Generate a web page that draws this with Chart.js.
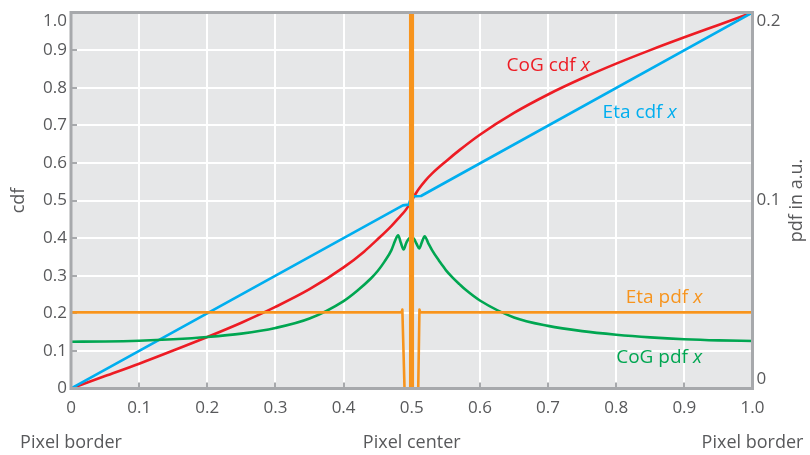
<!DOCTYPE html>
<html>
<head>
<meta charset="utf-8">
<script src="https://cdn.jsdelivr.net/npm/chart.js@4.4.1/dist/chart.umd.min.js"></script>
<style>
  html, body { margin: 0; padding: 0; background: #ffffff; }
  #wrap { width: 810px; height: 455px; }
</style>
</head>
<body>
<div id="wrap"><canvas id="c" width="810" height="455"></canvas></div>
<script>
// Position within the pixel (0 = border, 0.5 = centre, 1 = border)
const cogCdfX = [0, 0.05, 0.1, 0.15, 0.2, 0.25, 0.3, 0.35, 0.4, 0.43, 0.45, 0.47, 0.48, 0.49, 0.495, 0.5, 0.505, 0.51, 0.52, 0.53, 0.55, 0.57, 0.6, 0.65, 0.7, 0.75, 0.8, 0.85, 0.9, 0.95, 1.0];
const cogCdfY = [0, 0.033, 0.066, 0.101, 0.137, 0.175, 0.217, 0.264, 0.322, 0.364, 0.397, 0.432, 0.452, 0.472, 0.485, 0.5, 0.516, 0.53, 0.553, 0.572, 0.604, 0.634, 0.675, 0.733, 0.782, 0.825, 0.864, 0.9, 0.934, 0.967, 1.0];

const etaCdfX = [0, 0.487, 0.4955, 0.4995, 0.5135, 1.0];
const etaCdfY = [0, 0.487, 0.489, 0.511, 0.512, 1.0];

const etaPdfX = [0, 0.485, 0.4862, 0.4894, 0.4975, 0.4978, 0.5012, 0.5015, 0.5095, 0.5113, 0.5125, 1.0];
const etaPdfY = [0.0405, 0.0405, 0.042, 0, 0, 1.5, 1.5, 0, 0, 0.042, 0.0405, 0.0405];

const cogPdfX = [0, 0.05, 0.1, 0.15, 0.2, 0.25, 0.3, 0.35, 0.4, 0.42, 0.44, 0.45, 0.46, 0.47, 0.476, 0.48, 0.484, 0.488, 0.492, 0.497, 0.502, 0.507, 0.511, 0.515, 0.519, 0.524, 0.53, 0.54, 0.546, 0.55, 0.56, 0.57, 0.58, 0.6, 0.65, 0.7, 0.75, 0.8, 0.85, 0.9, 0.95, 1.0];
const cogPdfY = [0.0249, 0.0250, 0.0254, 0.0262, 0.0274, 0.0292, 0.0322, 0.0372, 0.0465, 0.052, 0.0585, 0.0625, 0.0675, 0.0735, 0.079, 0.0815, 0.0775, 0.074, 0.0775, 0.080, 0.080, 0.077, 0.0745, 0.078, 0.081, 0.0775, 0.0735, 0.068, 0.065, 0.063, 0.059, 0.0555, 0.0522, 0.0468, 0.0378, 0.0333, 0.0305, 0.0286, 0.0272, 0.0262, 0.0256, 0.0253];

// Secondary labels under the x axis
const bottomMarks = [0, 0.5, 1];
const bottomLabels = ['Pixel border', 'Pixel center', 'Pixel border'];

// Curve captions: text, colour, anchor (x, cdf value of baseline)
const captions = [
  { text: 'CoG cdf ', color: '#ed1c24', x: 0.639, y: 0.845 },
  { text: 'Eta cdf ', color: '#00aeef', x: 0.780, y: 0.719 },
  { text: 'Eta pdf ', color: '#f7941d', x: 0.814, y: 0.228 },
  { text: 'CoG pdf ', color: '#00a651', x: 0.800, y: 0.067 }
];

const TEXT = '#58595b';
const FRAME = '#a7a9ac';
const PLOT_BG = '#e6e7e8';
const FONT = "'Open Sans', 'Noto Sans', sans-serif";

const pts = (xs, ys) => xs.map((x, i) => ({ x: x, y: ys[i] }));
const fmt = v => Math.abs(v) < 1e-9 ? '0' : v.toFixed(1);
const near = (a, b) => Math.abs(a - b) < 1e-6;

const plotFrame = {
  id: 'plotFrame',
  beforeDraw(chart) {
    const { ctx, chartArea: a } = chart;
    ctx.save();
    ctx.fillStyle = PLOT_BG;
    ctx.fillRect(a.left, a.top, a.right - a.left, a.bottom - a.top);
    ctx.restore();
  },
  afterDatasetsDraw(chart) {
    const { ctx, chartArea: a } = chart;
    ctx.save();
    ctx.strokeStyle = FRAME;
    ctx.lineWidth = 3;
    ctx.strokeRect(a.left, a.top, a.right - a.left, a.bottom - a.top);
    ctx.restore();
  },
  afterDraw(chart) {
    const { ctx, chartArea: a } = chart;
    const xs = chart.scales.x, ys = chart.scales.y;
    ctx.save();
    // captions with italic variable name
    ctx.textBaseline = 'alphabetic';
    ctx.textAlign = 'left';
    captions.forEach(c => {
      const px = xs.getPixelForValue(c.x);
      const py = ys.getPixelForValue(c.y);
      ctx.fillStyle = c.color;
      ctx.font = '19px ' + FONT;
      ctx.fillText(c.text, px, py);
      const w = ctx.measureText(c.text).width;
      ctx.font = 'italic 19px ' + FONT;
      ctx.fillText('x', px + w, py);
    });
    // axis titles
    ctx.fillStyle = TEXT;
    ctx.font = '18px ' + FONT;
    ctx.textAlign = 'center';
    ctx.textBaseline = 'middle';
    const cy = (a.top + a.bottom) / 2;
    ctx.save();
    ctx.translate(19, cy);
    ctx.rotate(-Math.PI / 2);
    ctx.fillText('cdf', 0, 0);
    ctx.restore();
    ctx.save();
    ctx.translate(797, cy);
    ctx.rotate(-Math.PI / 2);
    ctx.fillText('pdf in a.u.', 0, 0);
    ctx.restore();
    ctx.restore();
  }
};

const gridStyle = {
  color: '#ffffff',
  lineWidth: 2,
  drawTicks: true,
  tickLength: -6,
  tickColor: FRAME,
  tickWidth: 2
};

// fixed scale sizes so the plot area sits where it should
const fixH = h => s => { s.height = h; s.paddingLeft = 0; s.paddingRight = 0; };
const fixW = w => s => { s.width = w; s.paddingTop = 0; s.paddingBottom = 0; };

new Chart(document.getElementById('c'), {
  type: 'line',
  data: {
    datasets: [
      {
        label: 'Eta pdf x', data: pts(etaPdfX, etaPdfY), yAxisID: 'y2',
        borderColor: '#f7941d', borderWidth: 2.6, pointRadius: 0, tension: 0,
        borderJoinStyle: 'round'
      },
      {
        label: 'CoG pdf x', data: pts(cogPdfX, cogPdfY), yAxisID: 'y2',
        borderColor: '#00a651', borderWidth: 2.6, pointRadius: 0, cubicInterpolationMode: 'monotone',
        borderJoinStyle: 'round'
      },
      {
        label: 'Eta cdf x', data: pts(etaCdfX, etaCdfY), yAxisID: 'y',
        borderColor: '#00aeef', borderWidth: 2.6, pointRadius: 0, tension: 0,
        borderJoinStyle: 'round'
      },
      {
        label: 'CoG cdf x', data: pts(cogCdfX, cogCdfY), yAxisID: 'y',
        borderColor: '#ed1c24', borderWidth: 2.6, pointRadius: 0, cubicInterpolationMode: 'monotone',
        borderJoinStyle: 'round'
      }
    ]
  },
  options: {
    responsive: false,
    animation: false,
    devicePixelRatio: 1,
    layout: { padding: { top: 12.5, left: 0, right: 0, bottom: 0 } },
    plugins: { legend: { display: false }, tooltip: { enabled: false } },
    scales: {
      x: {
        type: 'linear', position: 'bottom', min: 0, max: 1, weight: 0,
        grid: gridStyle,
        border: { display: false },
        ticks: {
          stepSize: 0.1, color: TEXT, padding: 15, maxRotation: 0, autoSkip: false,
          font: { family: FONT, size: 17 },
          callback: v => fmt(v)
        },
        afterFit: fixH(36)
      },
      x2: {
        type: 'linear', position: 'bottom', min: 0, max: 1, weight: 1,
        grid: { display: false, drawTicks: false },
        border: { display: false },
        afterBuildTicks: s => { s.ticks = bottomMarks.map(v => ({ value: v })); },
        ticks: {
          color: TEXT, padding: 8, maxRotation: 0, autoSkip: false,
          font: { family: FONT, size: 18 },
          callback: v => bottomLabels[bottomMarks.findIndex(m => near(m, v))]
        },
        afterFit: fixH(30.5)
      },
      y: {
        type: 'linear', position: 'left', min: 0, max: 1,
        grid: gridStyle,
        border: { display: false },
        ticks: {
          stepSize: 0.1, color: TEXT, padding: 10, autoSkip: false,
          font: { family: FONT, size: 17, lineHeight: 1.05 },
          callback: v => near(v, 1) ? ['', '1.0'] : fmt(v)
        },
        afterFit: fixW(71)
      },
      y2: {
        type: 'linear', position: 'right', min: 0, max: 0.2,
        grid: { display: false, drawTicks: false },
        border: { display: false },
        ticks: {
          stepSize: 0.1, color: TEXT, padding: 4, autoSkip: false,
          font: { family: FONT, size: 17, lineHeight: 1.05 },
          callback: v => near(v, 0) ? ['0', ''] : near(v, 0.2) ? ['', '0.2'] : fmt(v)
        },
        afterFit: fixW(57.5)
      }
    }
  },
  plugins: [plotFrame]
});
</script>
</body>
</html>
